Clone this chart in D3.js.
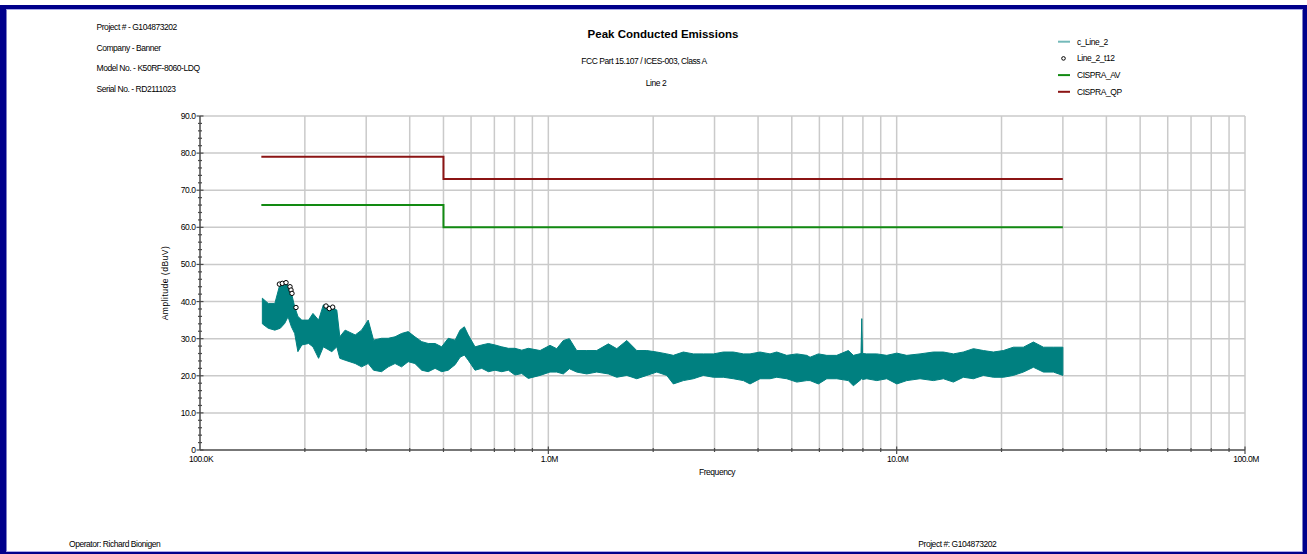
<!DOCTYPE html>
<html>
<head>
<meta charset="utf-8">
<script src="https://cdn.jsdelivr.net/npm/d3@7"></script>
<style>
    body { margin: 0; background: #ffffff; }
    svg { display: block; font-family: "Liberation Sans", Arial, sans-serif; }
    .small { font-size: 8.5px; letter-spacing: -0.45px; fill: #000; }
</style>
</head>
<body>
<svg id="chart" width="1307" height="554"></svg>
<script>
// Header / footer text.
var headerLines = ["Project # - G104873202", "Company - Banner", "Model No. - K50RF-8060-LDQ", "Serial No. - RD2111023"];
var titleText = "Peak Conducted Emissions";
var subTitles = ["FCC Part 15.107 / ICES-003, Class A", "Line 2"];
var footerLeft = "Operator: Richard Bionigen";
var footerRight = "Project #: G104873202";

// Axes.
var yTicks = [0, 10, 20, 30, 40, 50, 60, 70, 80, 90];
var xTicks = [0.1, 1, 10, 100];
var xTickLabels = ["100.0K", "1.0M", "10.0M", "100.0M"];

// Legend.
var legendNames = ["c_Line_2", "Line_2_t12", "CISPRA_AV", "CISPRA_QP"];

// Limit lines (MHz, dBuV).
var limitFreq = [0.15, 0.5, 0.5, 30];
var qpLimit = [79, 79, 73, 73];
var avLimit = [66, 66, 60, 60];

var traceFreq = [0.151, 0.157, 0.164, 0.170, 0.175, 0.179, 0.183, 0.187, 0.191, 0.196,
    0.205, 0.211, 0.219, 0.226, 0.239, 0.247, 0.252, 0.261, 0.279, 0.291,
    0.304, 0.315, 0.332, 0.347, 0.363, 0.379, 0.396, 0.414, 0.433, 0.452,
    0.473, 0.494, 0.516, 0.540, 0.558, 0.574, 0.589, 0.616, 0.644, 0.673,
    0.703, 0.735, 0.768, 0.802, 0.839, 0.876, 0.947, 1.011, 1.057, 1.104,
    1.149, 1.206, 1.289, 1.377, 1.487, 1.572, 1.680, 1.794, 1.917, 2.048,
    2.188, 2.285, 2.441, 2.608, 2.786, 2.977, 3.180, 3.398, 3.630, 3.794,
    4.053, 4.330, 4.526, 4.835, 5.167, 5.520, 5.641, 5.961, 6.301, 6.730,
    7.266, 7.511, 7.90, 7.94, 7.98, 8.206, 8.769, 9.368, 10.01, 10.69,
    11.67, 12.75, 13.62, 14.55, 15.54, 16.61, 17.74, 18.95, 20.25, 21.63,
    23.11, 24.69, 26.38, 28.18, 30.0];
var traceHi = [40.9, 39.5, 39.5, 45.0, 45.1, 44.5, 42.3, 38.6, 36.0, 35.0,
    35.0, 36.8, 35.0, 39.1, 38.6, 37.7, 30.5, 32.3, 31.0, 32.3,
    35.0, 29.6, 30.1, 30.1, 30.5, 31.4, 31.9, 30.5, 29.2, 28.7,
    28.7, 27.8, 30.1, 29.6, 32.3, 33.2, 31.0, 27.8, 28.3, 28.7,
    28.3, 27.8, 27.4, 27.4, 26.9, 27.4, 26.8, 28.2, 27.3, 29.5,
    30.0, 26.8, 26.8, 26.8, 28.6, 27.3, 29.5, 26.8, 26.8, 26.4,
    25.9, 25.5, 26.4, 25.9, 25.9, 25.9, 26.4, 26.4, 25.9, 25.9,
    26.4, 25.9, 26.4, 25.5, 25.9, 25.5, 25.0, 25.9, 25.5, 25.5,
    26.8, 25.5, 26.0, 35.4, 26.0, 25.9, 25.9, 25.5, 26.1, 25.5,
    25.9, 26.4, 26.4, 25.9, 26.4, 27.3, 26.8, 26.4, 26.8, 27.7,
    27.7, 29.1, 27.7, 27.7, 27.7];
var traceLo = [34.0, 32.8, 32.3, 32.8, 34.1, 35.9, 33.2, 31.4, 26.5, 28.3,
    28.7, 27.8, 24.7, 27.8, 26.5, 27.8, 24.7, 24.2, 23.3, 22.4,
    23.3, 21.5, 21.1, 22.4, 23.3, 22.4, 23.8, 23.3, 21.5, 21.1,
    22.0, 21.1, 21.5, 23.0, 25.0, 25.6, 24.2, 21.5, 22.0, 21.1,
    21.5, 21.1, 21.5, 20.2, 20.6, 19.3, 20.1, 21.0, 21.0, 20.5,
    21.9, 21.0, 20.5, 21.0, 20.5, 19.6, 20.1, 19.2, 20.1, 21.0,
    20.1, 17.8, 18.7, 19.2, 20.1, 19.6, 19.6, 19.2, 18.7, 17.8,
    19.2, 19.2, 19.6, 19.2, 18.3, 18.7, 18.7, 17.8, 19.2, 19.2,
    18.7, 17.3, 19.0, 19.5, 19.0, 19.2, 18.7, 19.2, 17.8, 18.7,
    19.2, 18.7, 19.2, 18.3, 19.6, 19.2, 20.1, 19.6, 19.6, 20.1,
    21.0, 22.3, 21.0, 21.0, 20.1];

// Marked peaks (Line_2_t12).
var peakFreq = [0.169, 0.1723, 0.1766, 0.1813, 0.1825, 0.1837, 0.1886, 0.2300, 0.2351, 0.2404];
var peakAmp = [44.7, 44.9, 45.1, 44.0, 43.1, 42.2, 38.4, 38.8, 38.1, 38.5];

var colors = {
    trace: "#008080",
    av: "#128a12",
    qp: "#8b1414",
    grid: "#cacaca",
    axis: "#4a4a4a",
    frame: "#00008b"
};

function draw() {
    var svg = d3.select("#chart"),
        x = d3.scaleLog().domain([0.1, 100]).range([200, 1245]),
        y = d3.scaleLinear().domain([0, 90]).range([450, 116]),
        gridX = [],
        minorY = d3.range(0, 91, 2),
        trace,
        limitLine,
        legend;

    // Frame.
    svg.append("rect").attr("x", 0).attr("y", 0).attr("width", 1307).attr("height", 554).attr("fill", "#fff");
    svg.append("rect").attr("x", 0).attr("y", 5).attr("width", 1307).attr("height", 4).attr("fill", colors.frame);
    svg.append("rect").attr("x", 0).attr("y", 5).attr("width", 6.5).attr("height", 549).attr("fill", colors.frame);
    svg.append("rect").attr("x", 1302.5).attr("y", 5).attr("width", 4.5).attr("height", 549).attr("fill", colors.frame);
    svg.append("rect").attr("x", 0).attr("y", 552).attr("width", 1307).attr("height", 2).attr("fill", colors.frame);
    svg.append("line").attr("x1", 6.5).attr("x2", 1302.5).attr("y1", 9.5).attr("y2", 9.5)
        .attr("stroke", "#a8a8e8").attr("stroke-width", 1);
    svg.append("line").attr("x1", 6.5).attr("x2", 1302.5).attr("y1", 551.5).attr("y2", 551.5)
        .attr("stroke", "#a8a8e8").attr("stroke-width", 1);

    // Grid.
    [0.1, 1, 10].forEach(function (dec) {
        d3.range(1, 10).forEach(function (k) {
            gridX.push(dec * k);
        });
    });
    gridX.push(100);

    svg.append("g").selectAll("line")
        .data(gridX.filter(function (d) { return d > 0.1; }))
        .join("line")
        .attr("x1", function (d) { return x(d); })
        .attr("x2", function (d) { return x(d); })
        .attr("y1", y(90))
        .attr("y2", y(0))
        .attr("stroke", colors.grid)
        .attr("stroke-width", 1.5);

    svg.append("g").selectAll("line")
        .data(yTicks.filter(function (d) { return d > 0; }))
        .join("line")
        .attr("x1", x(0.1))
        .attr("x2", x(100))
        .attr("y1", function (d) { return y(d); })
        .attr("y2", function (d) { return y(d); })
        .attr("stroke", colors.grid)
        .attr("stroke-width", 1.5);

    // Limit lines.
    limitLine = d3.line()
        .x(function (d) { return x(d[0]); })
        .y(function (d) { return y(d[1]); });

    svg.append("path")
        .attr("d", limitLine(d3.zip(limitFreq, qpLimit)))
        .attr("fill", "none")
        .attr("stroke", colors.qp)
        .attr("stroke-width", 2);

    svg.append("path")
        .attr("d", limitLine(d3.zip(limitFreq, avLimit)))
        .attr("fill", "none")
        .attr("stroke", colors.av)
        .attr("stroke-width", 2);

    // Trace band.
    trace = d3.area()
        .x(function (d) { return x(d[0]); })
        .y0(function (d) { return y(d[2]); })
        .y1(function (d) { return y(d[1]); });

    svg.append("path")
        .attr("d", trace(d3.zip(traceFreq, traceHi, traceLo)))
        .attr("fill", colors.trace)
        .attr("stroke", colors.trace)
        .attr("stroke-width", 1);

    // Peak markers.
    svg.append("g").selectAll("circle")
        .data(d3.zip(peakFreq, peakAmp))
        .join("circle")
        .attr("cx", function (d) { return x(d[0]); })
        .attr("cy", function (d) { return y(d[1]); })
        .attr("r", 2.2)
        .attr("fill", "#fff")
        .attr("stroke", "#000")
        .attr("stroke-width", 1);

    // Axes lines.
    svg.append("line").attr("x1", x(0.1)).attr("x2", x(0.1)).attr("y1", y(90)).attr("y2", y(0))
        .attr("stroke", colors.axis).attr("stroke-width", 1.5);
    svg.append("line").attr("x1", x(0.1)).attr("x2", x(100)).attr("y1", y(0)).attr("y2", y(0))
        .attr("stroke", colors.axis).attr("stroke-width", 1.5);

    // Y ticks.
    svg.append("g").selectAll("line")
        .data(minorY)
        .join("line")
        .attr("x1", function (d) { return d % 10 === 0 ? 196.5 : 198; })
        .attr("x2", function (d) { return d % 10 === 0 ? 203.5 : 202; })
        .attr("y1", function (d) { return y(d); })
        .attr("y2", function (d) { return y(d); })
        .attr("stroke", colors.axis)
        .attr("stroke-width", 1.2);

    svg.append("g").selectAll("text")
        .data(yTicks)
        .join("text")
        .attr("class", "small")
        .attr("x", 195.5)
        .attr("y", function (d) { return y(d); })
        .attr("dy", "0.35em")
        .attr("text-anchor", "end")
        .text(function (d) { return d === 0 ? "0" : d.toFixed(1); });

    // X ticks.
    svg.append("g").selectAll("line")
        .data(gridX.filter(function (d) { return d > 0.1; }))
        .join("line")
        .attr("x1", function (d) { return x(d); })
        .attr("x2", function (d) { return x(d); })
        .attr("y1", function (d) { return xTicks.indexOf(d) >= 0 ? 446.5 : 448; })
        .attr("y2", function (d) { return xTicks.indexOf(d) >= 0 ? 454 : 452; })
        .attr("stroke", colors.axis)
        .attr("stroke-width", 1.2);

    svg.append("g").selectAll("text")
        .data(xTicks)
        .join("text")
        .attr("class", "small")
        .attr("x", function (d) { return x(d) + 1; })
        .attr("y", 461.5)
        .attr("text-anchor", "middle")
        .text(function (d, i) { return xTickLabels[i]; });

    svg.append("text").attr("class", "small")
        .attr("x", 717).attr("y", 475).attr("text-anchor", "middle")
        .text("Frequency");

    svg.append("text").attr("class", "small")
        .attr("transform", "translate(168," + 283 + ") rotate(-90)")
        .attr("text-anchor", "middle")
        .style("letter-spacing", "0.5px")
        .text("Amplitude (dBuV)");

    // Header.
    svg.append("g").selectAll("text")
        .data(headerLines)
        .join("text")
        .attr("class", "small")
        .attr("x", 96.5)
        .attr("y", function (d, i) { return 30 + i * 20.7; })
        .text(function (d) { return d; });

    svg.append("text")
        .attr("x", 663).attr("y", 37.7).attr("text-anchor", "middle")
        .style("font-size", "11.5px").style("font-weight", "bold")
        .text(titleText);

    svg.append("text").attr("class", "small")
        .attr("x", 644).attr("y", 64.3).attr("text-anchor", "middle")
        .text(subTitles[0]);

    svg.append("text").attr("class", "small")
        .attr("x", 656).attr("y", 85.7).attr("text-anchor", "middle")
        .text(subTitles[1]);

    // Legend.
    legend = svg.append("g").selectAll("g")
        .data(legendNames)
        .join("g")
        .attr("transform", function (d, i) { return "translate(0," + (41.7 + i * 16.7) + ")"; });

    legend.each(function (d, i) {
        var g = d3.select(this);
        if (i === 1) {
            g.append("circle").attr("cx", 1063.5).attr("cy", 0).attr("r", 1.8)
                .attr("fill", "#fff").attr("stroke", "#000").attr("stroke-width", 1);
        } else {
            g.append("line").attr("x1", 1058).attr("x2", 1070).attr("y1", 0).attr("y2", 0)
                .attr("stroke", [colors.trace, null, colors.av, colors.qp][i])
                .attr("stroke-opacity", i === 0 ? 0.55 : 1)
                .attr("stroke-width", 2);
        }
        g.append("text").attr("class", "small")
            .attr("x", 1077).attr("y", 0).attr("dy", "0.35em")
            .text(d);
    });

    // Footer.
    svg.append("text").attr("class", "small")
        .attr("x", 69).attr("y", 546.5)
        .text(footerLeft);
    svg.append("text").attr("class", "small")
        .attr("x", 918.3).attr("y", 546.5)
        .text(footerRight);
}

draw();
</script>
</body>
</html>
